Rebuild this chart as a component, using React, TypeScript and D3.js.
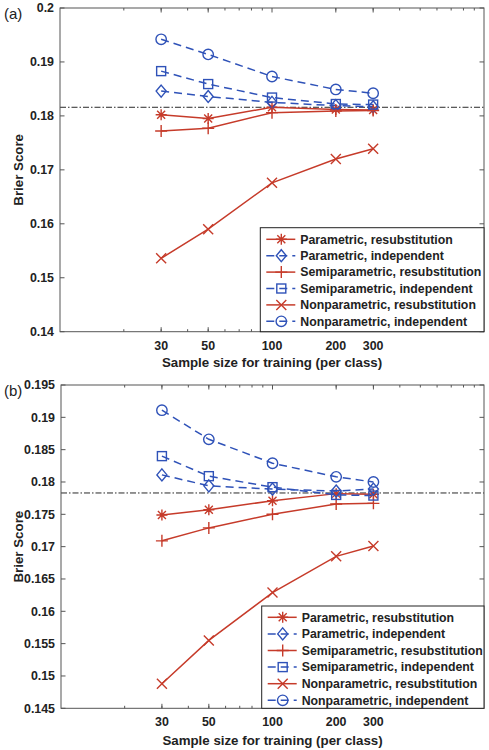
import React from "react";
import * as d3 from "d3";

const sampleSizes = [30, 50, 100, 200, 300];
const xTickLabels = [30, 50, 100, 200, 300];
const seriesLabels = [
  "Parametric, resubstitution",
  "Parametric, independent",
  "Semiparametric, resubstitution",
  "Semiparametric, independent",
  "Nonparametric, resubstitution",
  "Nonparametric, independent",
];
const seriesMarkers = ["asterisk", "diamond", "plus", "square", "cross", "circle"];
const seriesKinds = ["resub", "indep", "resub", "indep", "resub", "indep"];

// Panel (a)
const aParamResub = [0.1802, 0.1795, 0.1816, 0.1812, 0.1811];
const aParamIndep = [0.1846, 0.1836, 0.1825, 0.1819, 0.1817];
const aSemiResub = [0.1772, 0.1777, 0.1806, 0.1809, 0.181];
const aSemiIndep = [0.1883, 0.1859, 0.1834, 0.1822, 0.1821];
const aNonResub = [0.1536, 0.159, 0.1676, 0.172, 0.1739];
const aNonIndep = [0.1942, 0.1914, 0.1873, 0.1849, 0.1842];
const aRef = 0.1816;
const aYTicks = [0.14, 0.15, 0.16, 0.17, 0.18, 0.19, 0.2];

// Panel (b)
const bParamResub = [0.1749, 0.1757, 0.1771, 0.1782, 0.1781];
const bParamIndep = [0.1811, 0.1794, 0.1789, 0.1786, 0.1789];
const bSemiResub = [0.1709, 0.1729, 0.175, 0.1766, 0.1767];
const bSemiIndep = [0.184, 0.1809, 0.1792, 0.178, 0.1779];
const bNonResub = [0.1488, 0.1555, 0.1629, 0.1685, 0.1701];
const bNonIndep = [0.1911, 0.1866, 0.1829, 0.1808, 0.18];
const bRef = 0.1783;
const bYTicks = [0.145, 0.15, 0.155, 0.16, 0.165, 0.17, 0.175, 0.18, 0.185, 0.19, 0.195];

const RED = "#C63B2A";
const BLUE = "#2F52B8";
const AXIS = "#555";
const FONT = "'Liberation Sans', Arial, sans-serif";

function Marker({ type, x, y, color }: { type: string; x: number; y: number; color: string }) {
  const sw = 1.4;
  if (type === "circle") return <circle cx={x} cy={y} r={5.2} fill="none" stroke={color} strokeWidth={sw} />;
  if (type === "square")
    return <rect x={x - 4.5} y={y - 4.5} width={9} height={9} fill="none" stroke={color} strokeWidth={sw} />;
  if (type === "diamond")
    return (
      <path d={`M${x},${y - 6}L${x + 5},${y}L${x},${y + 6}L${x - 5},${y}Z`} fill="none" stroke={color} strokeWidth={sw} />
    );
  if (type === "plus")
    return <path d={`M${x - 6},${y}H${x + 6}M${x},${y - 6}V${y + 6}`} stroke={color} strokeWidth={sw} />;
  if (type === "cross")
    return <path d={`M${x - 5},${y - 5}L${x + 5},${y + 5}M${x - 5},${y + 5}L${x + 5},${y - 5}`} stroke={color} strokeWidth={sw} />;
  // asterisk
  return (
    <path
      d={`M${x - 5.5},${y}H${x + 5.5}M${x},${y - 5.5}V${y + 5.5}M${x - 4},${y - 4}L${x + 4},${y + 4}M${x - 4},${y + 4}L${x + 4},${y - 4}`}
      stroke={color}
      strokeWidth={sw}
    />
  );
}

type PanelProps = {
  label: string;
  left: number;
  right: number;
  top: number;
  bottom: number;
  yDomain: [number, number];
  yTicks: number[];
  series: number[][];
  refValue: number;
  legendBox: { x: number; y: number; w: number; h: number; row0: number; rowStep: number };
  labelY: number;
};

function Panel(p: PanelProps) {
  const x = d3.scaleLog().domain([10, 1000]).range([p.left, p.right]);
  const y = d3.scaleLinear().domain(p.yDomain).range([p.bottom, p.top]);
  const minor: number[] = [];
  for (const dec of [10, 100]) for (let k = 2; k <= 9; k++) minor.push(dec * k);
  const fmt = (v: number) => String(+v.toFixed(3));
  const line = d3
    .line<number>()
    .x((_, i) => x(sampleSizes[i]))
    .y((d) => y(d));
  return (
    <g>
      <text x={4} y={p.top + 11} fontFamily={FONT} fontSize={15} fill="#222">
        {p.label}
      </text>
      <line
        x1={p.left}
        x2={p.right}
        y1={y(p.refValue)}
        y2={y(p.refValue)}
        stroke="#111"
        strokeWidth={0.9}
        strokeDasharray="6,2,1.5,2"
      />
      {p.series.map((vals, si) => {
        const color = seriesKinds[si] === "resub" ? RED : BLUE;
        return (
          <g key={si}>
            <path
              d={line(vals) || ""}
              fill="none"
              stroke={color}
              strokeWidth={1.5}
              strokeDasharray={seriesKinds[si] === "indep" ? "8,5" : undefined}
            />
            {vals.map((v, i) => (
              <Marker key={i} type={seriesMarkers[si]} x={x(sampleSizes[i])} y={y(v)} color={color} />
            ))}
          </g>
        );
      })}
      <rect x={p.left} y={p.top} width={p.right - p.left} height={p.bottom - p.top} fill="none" stroke={AXIS} strokeWidth={1} />
      {minor.map((m) => (
        <g key={m}>
          <line x1={x(m)} x2={x(m)} y1={p.bottom} y2={p.bottom - 2.5} stroke={AXIS} />
          <line x1={x(m)} x2={x(m)} y1={p.top} y2={p.top + 2.5} stroke={AXIS} />
        </g>
      ))}
      {xTickLabels.map((t) => (
        <g key={t}>
          <line x1={x(t)} x2={x(t)} y1={p.bottom} y2={p.bottom - 4.5} stroke={AXIS} />
          <line x1={x(t)} x2={x(t)} y1={p.top} y2={p.top + 4.5} stroke={AXIS} />
          <text
            x={x(t)}
            y={p.bottom + 18}
            textAnchor="middle"
            fontFamily={FONT}
            fontWeight="bold"
            fontSize={12.4}
            fill="#222"
          >
            {t}
          </text>
        </g>
      ))}
      {p.yTicks.map((t) => (
        <g key={t}>
          <line x1={p.left} x2={p.left + 4.5} y1={y(t)} y2={y(t)} stroke={AXIS} />
          <line x1={p.right} x2={p.right - 4.5} y1={y(t)} y2={y(t)} stroke={AXIS} />
          <text
            x={p.left - 6}
            y={y(t)}
            dy="0.35em"
            textAnchor="end"
            fontFamily={FONT}
            fontWeight="bold"
            fontSize={12.4}
            fill="#222"
          >
            {fmt(t)}
          </text>
        </g>
      ))}
      <text
        transform={`translate(${18},${(p.top + p.bottom) / 2}) rotate(-90)`}
        textAnchor="middle"
        dy="0.35em"
        fontFamily={FONT}
        fontWeight="bold"
        fontSize={13.3}
        fill="#222"
      >
        Brier Score
      </text>
      <text
        x={(p.left + p.right) / 2}
        y={p.labelY}
        textAnchor="middle"
        dy="0.35em"
        fontFamily={FONT}
        fontWeight="bold"
        fontSize={13.3}
        fill="#222"
      >
        Sample size for training (per class)
      </text>
      <rect
        x={p.legendBox.x}
        y={p.legendBox.y}
        width={p.legendBox.w}
        height={p.legendBox.h}
        fill="#fff"
        stroke="#222"
        strokeWidth={1}
      />
      {seriesLabels.map((lab, si) => {
        const color = seriesKinds[si] === "resub" ? RED : BLUE;
        const ry = p.legendBox.row0 + si * p.legendBox.rowStep;
        const lx = p.legendBox.x;
        return (
          <g key={lab}>
            <line
              x1={lx + 6}
              x2={lx + 35}
              y1={ry}
              y2={ry}
              stroke={color}
              strokeWidth={1.5}
              strokeDasharray={seriesKinds[si] === "indep" ? "8,5" : undefined}
            />
            <Marker type={seriesMarkers[si]} x={lx + 21} y={ry} color={color} />
            <text x={lx + 40} y={ry} dy="0.35em" fontFamily={FONT} fontWeight="bold" fontSize={12.3} fill="#222">
              {lab}
            </text>
          </g>
        );
      })}
    </g>
  );
}

export default function App() {
  return (
    <svg width={489} height={750} style={{ position: "absolute", left: 0, top: 0, background: "#fff" }}>
      <Panel
        label="(a)"
        left={60}
        right={484}
        top={8}
        bottom={331.7}
        yDomain={[0.14, 0.2]}
        yTicks={aYTicks}
        series={[aParamResub, aParamIndep, aSemiResub, aSemiIndep, aNonResub, aNonIndep]}
        refValue={aRef}
        legendBox={{ x: 260.3, y: 227.7, w: 223.7, h: 104, row0: 239.3, rowStep: 16.4 }}
        labelY={362.5}
      />
      <Panel
        label="(b)"
        left={61}
        right={484}
        top={385}
        bottom={708.3}
        yDomain={[0.145, 0.195]}
        yTicks={bYTicks}
        series={[bParamResub, bParamIndep, bSemiResub, bSemiIndep, bNonResub, bNonIndep]}
        refValue={bRef}
        legendBox={{ x: 261.7, y: 606, w: 222.3, h: 102.3, row0: 617.3, rowStep: 16.6 }}
        labelY={740}
      />
    </svg>
  );
}
